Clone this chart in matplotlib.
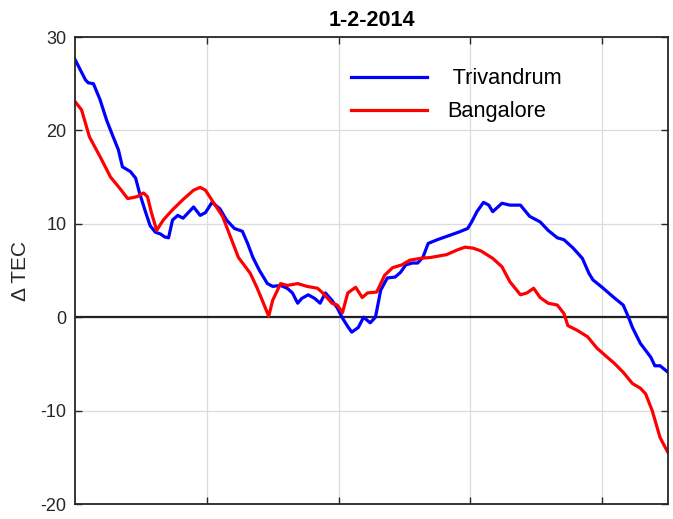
import numpy as np
import matplotlib.pyplot as plt

plt.rcParams["font.family"] = ["Liberation Sans", "DejaVu Sans"]
plt.rcParams["axes.unicode_minus"] = False

# Trivandrum (blue) trace
triv_x = [0.00, 0.04, 0.08, 0.10, 0.14, 0.19, 0.24, 0.29, 0.33, 0.36, 0.42, 0.46, 0.49,
          0.53, 0.57, 0.61, 0.65, 0.68, 0.71, 0.74, 0.78, 0.82, 0.90, 0.95, 0.99, 1.04,
          1.10, 1.15, 1.21, 1.27, 1.31, 1.35, 1.40, 1.46, 1.50, 1.56, 1.61, 1.65, 1.69,
          1.72, 1.77, 1.82, 1.86, 1.90, 1.95, 1.99, 2.03, 2.07, 2.10, 2.15, 2.19, 2.24,
          2.28, 2.32, 2.37, 2.43, 2.47, 2.51, 2.56, 2.60, 2.64, 2.68, 2.75, 2.81, 2.85,
          2.91, 2.98, 3.01, 3.05, 3.10, 3.14, 3.17, 3.24, 3.30, 3.38, 3.45, 3.53, 3.59,
          3.66, 3.71, 3.78, 3.85, 3.90, 3.93, 4.00, 4.09, 4.16, 4.20, 4.23, 4.29, 4.37,
          4.40, 4.44, 4.50]
triv_y = [27.6, 26.5, 25.4, 25.1, 25.0, 23.3, 21.1, 19.3, 17.9, 16.1, 15.6, 14.9, 13.3,
          11.5, 9.8, 9.1, 8.9, 8.6, 8.5, 10.4, 10.9, 10.6, 11.8, 10.9, 11.2, 12.3,
          11.6, 10.4, 9.5, 9.2, 7.9, 6.4, 5.0, 3.6, 3.3, 3.4, 3.1, 2.6, 1.5,
          2.0, 2.4, 2.0, 1.5, 2.6, 1.8, 1.0, -0.1, -1.0, -1.6, -1.1, 0.0, -0.6,
          0.0, 2.9, 4.2, 4.3, 4.8, 5.6, 5.8, 5.8, 6.4, 7.9, 8.3, 8.6, 8.8,
          9.1, 9.5, 10.2, 11.3, 12.3, 12.0, 11.3, 12.2, 12.0, 12.0, 10.8, 10.2, 9.3,
          8.5, 8.3, 7.4, 6.3, 4.7, 4.0, 3.2, 2.1, 1.3, 0.0, -1.1, -2.8, -4.3,
          -5.2, -5.2, -5.9]

# Bangalore (red) trace
bang_x = [0.00, 0.05, 0.11, 0.19, 0.27, 0.34, 0.40, 0.47, 0.52, 0.55, 0.58, 0.62, 0.67,
          0.74, 0.82, 0.90, 0.95, 0.99, 1.05, 1.12, 1.18, 1.24, 1.33, 1.38, 1.43, 1.47,
          1.50, 1.56, 1.61, 1.69, 1.76, 1.84, 1.88, 1.95, 1.99, 2.03, 2.07, 2.13, 2.18,
          2.22, 2.29, 2.35, 2.41, 2.48, 2.54, 2.62, 2.70, 2.82, 2.90, 2.96, 3.02, 3.08,
          3.17, 3.24, 3.30, 3.38, 3.43, 3.48, 3.53, 3.59, 3.66, 3.71, 3.74, 3.81, 3.89,
          3.96, 4.04, 4.09, 4.16, 4.23, 4.29, 4.33, 4.38, 4.44, 4.50]
bang_y = [23.1, 22.2, 19.3, 17.2, 15.0, 13.8, 12.7, 12.9, 13.3, 12.9, 11.2, 9.3, 10.4,
          11.5, 12.6, 13.6, 13.9, 13.6, 12.3, 10.8, 8.6, 6.4, 4.7, 3.2, 1.5, 0.1,
          1.8, 3.6, 3.4, 3.6, 3.3, 3.1, 2.6, 1.5, 1.3, 0.5, 2.6, 3.2, 2.1,
          2.6, 2.7, 4.5, 5.3, 5.6, 6.1, 6.3, 6.4, 6.7, 7.2, 7.5, 7.4, 7.1,
          6.3, 5.4, 3.8, 2.4, 2.6, 3.1, 2.1, 1.5, 1.3, 0.4, -0.9, -1.4, -2.1,
          -3.3, -4.3, -4.9, -5.9, -7.1, -7.6, -8.2, -10.0, -12.9, -14.5]

x_ticks = [1, 2, 3, 4]
y_ticks = [-20, -10, 0, 10, 20, 30]

fig = plt.figure(figsize=(6.73, 5.19), dpi=100)
ax = fig.add_axes([0.1114, 0.0289, 0.8812, 0.8998])

ax.plot(triv_x, triv_y, color="#0000ff", lw=2.3, label=" Trivandrum")
ax.plot(bang_x, bang_y, color="#ff0000", lw=2.3, label="Bangalore")
ax.axhline(0, color="#222222", lw=1.6, zorder=1)

ax.set_xlim(0, 4.5)
ax.set_ylim(-20, 30)
ax.set_xticks(x_ticks)
ax.set_yticks(y_ticks)
ax.set_xticklabels([])
ax.grid(True, color="#dcdcdc", lw=0.9)
ax.set_axisbelow(True)
ax.tick_params(direction="in", length=5, width=1, top=True, right=True,
               colors="#262626", labelsize=13, pad=6)
for s in ax.spines.values():
    s.set_color("#262626")
    s.set_linewidth(1.3)

ax.set_ylabel("\u0394 TEC", fontsize=15, color="#262626")
ax.yaxis.set_label_coords(-0.075, 0.5)
ax.set_title("1-2-2014", fontsize=15.5, fontweight="bold", pad=8)

ax.legend(loc="upper left", bbox_to_anchor=(0.4316, 0.975), frameon=False,
          fontsize=15.7, handlelength=3.5, handletextpad=0.92, labelspacing=0.55)

fig.savefig("out.png", dpi=100)
